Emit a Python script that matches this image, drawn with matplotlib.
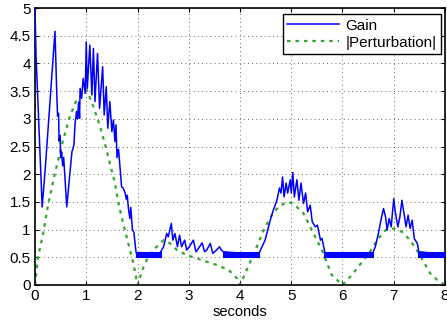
import matplotlib
matplotlib.use("Agg")
import matplotlib.pyplot as plt
import numpy as np

# ---- data ----
gain_t = [0.00, 0.02, 0.14, 0.20, 0.30, 0.39, 0.42, 0.44, 0.46, 0.47, 0.49, 0.50, 0.52, 0.54, 0.56,
          0.62, 0.68, 0.72, 0.76, 0.78, 0.81, 0.83, 0.85, 0.87, 0.88, 0.91, 0.94, 0.98, 1.00, 1.02,
          1.07, 1.11, 1.14, 1.17, 1.22, 1.26, 1.32, 1.35, 1.39, 1.42, 1.46, 1.50, 1.53, 1.56, 1.58,
          1.60, 1.63, 1.66, 1.69, 1.72, 1.76, 1.78, 1.80, 1.82, 1.85, 1.87, 1.90, 1.93, 1.97, 1.99,
          2.44, 2.51, 2.57, 2.60, 2.66, 2.69, 2.73, 2.78, 2.82, 2.86, 2.92, 2.96, 3.01, 3.09, 3.14,
          3.19, 3.26, 3.31, 3.35, 3.42, 3.47, 3.54, 3.60, 3.63, 3.67,
          4.36, 4.49, 4.59, 4.65, 4.72, 4.77, 4.80, 4.83, 4.86, 4.90, 4.93, 4.98, 5.00, 5.03, 5.06,
          5.11, 5.15, 5.19, 5.24, 5.28, 5.32, 5.37, 5.41, 5.47, 5.51, 5.57, 5.60, 5.66,
          6.58, 6.64, 6.70, 6.75, 6.80, 6.84, 6.87, 6.91, 6.95, 7.00, 7.03, 7.08, 7.12, 7.16, 7.21,
          7.24, 7.28, 7.32, 7.36, 7.40, 7.46, 7.49, 8.00]
gain_v = [5.00, 4.15, 1.41, 2.10, 3.40, 4.58, 3.60, 3.05, 3.10, 2.60, 2.70, 2.30, 2.40, 2.15, 2.30,
          1.41, 2.00, 2.40, 2.53, 2.90, 3.13, 3.00, 3.30, 3.01, 3.55, 3.37, 3.73, 3.46, 4.39, 3.55,
          4.33, 3.43, 4.27, 3.31, 4.18, 3.19, 3.94, 3.07, 3.58, 2.83, 3.31, 2.77, 2.98, 2.59, 2.89,
          2.30, 2.45, 2.10, 1.77, 1.75, 1.66, 1.55, 1.62, 1.41, 1.20, 1.40, 1.00, 0.95, 0.60, 0.55,
          0.58, 0.69, 0.93, 0.87, 1.11, 0.81, 0.93, 0.69, 0.90, 0.69, 0.81, 0.63, 0.69, 0.81, 0.60,
          0.66, 0.76, 0.60, 0.63, 0.75, 0.57, 0.63, 0.69, 0.64, 0.60,
          0.55, 0.81, 1.17, 1.35, 1.53, 1.75, 1.66, 1.95, 1.59, 1.84, 1.66, 1.90, 1.66, 2.03, 1.59,
          1.90, 1.53, 1.84, 1.47, 1.66, 1.32, 1.44, 1.14, 1.05, 1.08, 0.81, 0.84, 0.57,
          0.55, 0.69, 0.93, 1.17, 1.38, 1.23, 0.99, 1.20, 1.05, 1.56, 1.32, 1.05, 1.23, 1.53, 1.23,
          1.05, 1.26, 1.02, 1.17, 0.84, 0.75, 0.60, 0.55]

# chattering segments of the gain (fast switching band)
chatter_start = [1.98, 3.66, 5.64, 7.48]
chatter_end = [2.45, 4.37, 6.59, 8.00]
chatter_low = 0.50
chatter_high = 0.60

pert_t = [0.00, 0.06, 0.16, 0.26, 0.39, 0.55, 0.68, 0.81, 1.01, 1.14, 1.27, 1.37, 1.46, 1.56, 1.63,
          1.72, 1.82, 1.92, 2.00, 2.12, 2.21, 2.34, 2.51, 2.64, 2.77, 2.96, 3.16, 3.35, 3.55, 3.78,
          3.94, 4.00, 4.13, 4.30, 4.46, 4.62, 4.75, 4.92, 5.04, 5.24, 5.37, 5.50, 5.60, 5.70, 5.79,
          6.00, 6.20, 6.35, 6.50, 6.70, 6.84, 7.00, 7.16, 7.32, 7.49, 7.62, 7.71, 7.85, 8.00]
pert_v = [0.00, 0.51, 0.94, 1.47, 2.02, 2.62, 3.04, 3.34, 3.52, 3.22, 2.86, 2.53, 2.20, 1.84, 1.47,
          1.11, 0.75, 0.39, 0.00, 0.33, 0.51, 0.66, 0.81, 0.75, 0.63, 0.54, 0.48, 0.42, 0.36, 0.27,
          0.12, 0.00, 0.27, 0.63, 0.99, 1.26, 1.41, 1.50, 1.47, 1.29, 1.05, 0.81, 0.63, 0.39, 0.18,
          0.00, 0.20, 0.38, 0.55, 0.84, 0.99, 1.02, 0.96, 0.81, 0.57, 0.36, 0.21, 0.09, 0.00]

x_ticks = [0, 1, 2, 3, 4, 5, 6, 7, 8]
y_ticks = [0, 0.5, 1, 1.5, 2, 2.5, 3, 3.5, 4, 4.5, 5]
y_labels = ["0", "0.5", "1", "1.5", "2", "2.5", "3", "3.5", "4", "4.5", "5"]

# ---- figure ----
plt.rcParams['font.family'] = ['Liberation Sans', 'DejaVu Sans']
fig = plt.figure(figsize=(4.47, 3.25), dpi=100)
ax = fig.add_axes([35 / 447, 40 / 325, 410 / 447, 277 / 325])

blue = (0, 0, 1)
green = (0.2, 0.65, 0.2)

ax.plot(gain_t, gain_v, color=blue, lw=1.1, label='Gain', zorder=3)
for s, e in zip(chatter_start, chatter_end):
    ax.fill_between([s, e], [chatter_low, chatter_low], [chatter_high, chatter_high],
                    color=blue, lw=0.8, zorder=3)
ax.plot(pert_t, pert_v, color=green, lw=1.6, linestyle=(0, (1.6, 2.2)),
        label='|Perturbation|', zorder=2)

ax.set_xlim(0, 8)
ax.set_ylim(0, 5)
ax.set_xticks(x_ticks)
ax.set_xticklabels([str(v) for v in x_ticks])
ax.set_yticks(y_ticks)
ax.set_yticklabels(y_labels)
ax.tick_params(direction='in', top=True, right=True, labelsize=11, length=3, pad=3)
ax.grid(True, color='black', linestyle=(0, (1, 4)), linewidth=0.6, alpha=0.8)
for sp in ax.spines.values():
    sp.set_linewidth(1.2)
ax.set_xlabel('seconds', fontsize=10.5, labelpad=1)

leg = ax.legend(loc='upper right', bbox_to_anchor=(0.99, 0.978), fontsize=11,
                frameon=True, fancybox=False, framealpha=1, edgecolor='black',
                borderpad=0.3, labelspacing=0.2, handlelength=3.4, handletextpad=0.4,
                borderaxespad=0.0)
leg.get_frame().set_linewidth(1.0)

fig.savefig('out.png', dpi=100)
